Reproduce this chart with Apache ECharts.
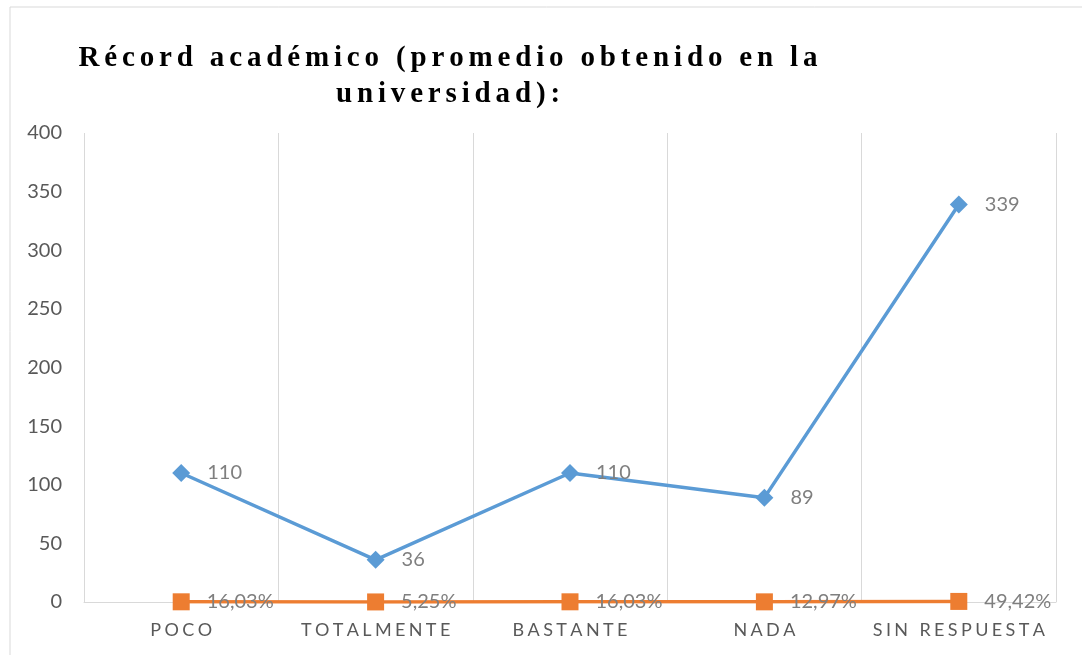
<!DOCTYPE html>
<html>
<head>
<meta charset="utf-8">
<script src="https://cdn.jsdelivr.net/npm/echarts@6/dist/echarts.min.js"></script>
<style>
  html, body { margin: 0; padding: 0; background: #fff; }
  #chart { width: 1082px; height: 655px; }
</style>
</head>
<body>
<div id="chart"></div>
<script>
  const categories = ['POCO', 'TOTALMENTE', 'BASTANTE', 'NADA', 'SIN RESPUESTA']
  const frecuencia = [110, 36, 110, 89, 339]
  const porcentaje = [0.1603, 0.0525, 0.1603, 0.1297, 0.4942]
  const yTicks = { min: 0, max: 400, interval: 50 }

  // spread letters apart, the original uses letter spacing
  const spaced = (s, sep) => s.split('').join(sep)
  const pct = v => (v * 100).toFixed(2).replace('.', ',') + '%'

  const chart = echarts.init(document.getElementById('chart'))
  const titleText = [
    spaced('Récord académico (promedio obtenido en la', '\u200A\u200A'),
    spaced('universidad):', '\u200A\u200A')
  ].join('\n')

  chart.setOption({
    animation: false,
    textStyle: { fontFamily: 'Lato' },
    graphic: [{
      type: 'rect',
      shape: { x: 10, y: 7, width: 1200, height: 800 },
      style: { fill: 'none', stroke: '#d9d9d9', lineWidth: 1 },
      silent: true
    }],
    title: {
      text: titleText,
      left: 443,
      top: 36,
      textAlign: 'center',
      textStyle: {
        fontFamily: 'Liberation Serif',
        fontWeight: 'bold',
        fontSize: 29,
        lineHeight: 36,
        color: '#000'
      }
    },
    grid: { left: 84, right: 26, top: 133, bottom: 53 },
    xAxis: {
      type: 'category',
      data: categories,
      boundaryGap: true,
      axisLine: { lineStyle: { color: '#d9d9d9', width: 1 } },
      axisTick: { show: false },
      splitLine: { show: true, interval: 0, lineStyle: { color: '#d9d9d9', width: 1 } },
      axisLabel: {
        interval: 0,
        color: '#595959',
        fontSize: 18,
        margin: 19,
        formatter: v => spaced(v, '\u2009\u200A')
      }
    },
    yAxis: {
      type: 'value',
      min: yTicks.min,
      max: yTicks.max,
      interval: yTicks.interval,
      axisLine: { show: false },
      axisTick: { show: false },
      splitLine: { show: false },
      axisLabel: { color: '#595959', fontSize: 20, margin: 22 }
    },
    series: [{
      name: 'Frecuencia',
      type: 'line',
      data: frecuencia,
      symbol: 'diamond',
      symbolSize: 18,
      lineStyle: { color: '#5b9bd5', width: 3.5 },
      itemStyle: { color: '#5b9bd5' },
      label: {
        show: true,
        position: 'right',
        distance: 17,
        color: '#7f7f7f',
        fontSize: 20
      }
    }, {
      name: 'Porcentaje',
      type: 'line',
      data: porcentaje,
      symbol: 'rect',
      symbolSize: 17,
      lineStyle: { color: '#ed7d31', width: 3.5 },
      itemStyle: { color: '#ed7d31' },
      label: {
        show: true,
        position: 'right',
        distance: 17,
        color: '#7f7f7f',
        fontSize: 20,
        formatter: p => pct(p.value)
      }
    }]
  })
</script>
</body>
</html>
